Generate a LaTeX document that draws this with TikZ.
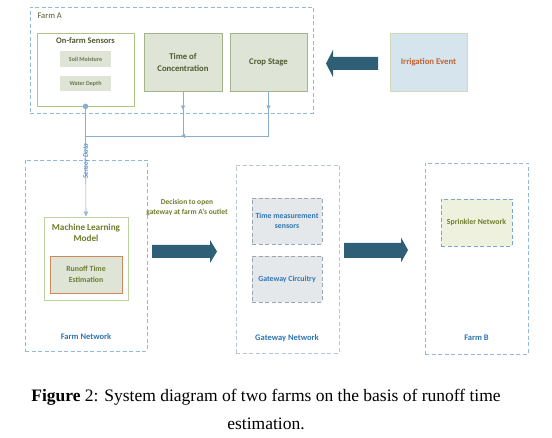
\documentclass[tikz,border=0pt]{standalone}
\usepackage{fontspec}
\setmainfont{Carlito}
\newfontfamily\capfont{Liberation Serif}
\usetikzlibrary{arrows.meta,decorations.markings}
\definecolor{dashblue}{HTML}{94B9D8}
\definecolor{conncol}{HTML}{8AAED0}
\definecolor{bigarrow}{HTML}{2F5F76}
\definecolor{greenline}{HTML}{ABC585}
\definecolor{boxfill}{HTML}{DEE4D6}
\definecolor{boxline}{HTML}{A3B38A}
\definecolor{olive}{HTML}{4E5B31}
\definecolor{olivelight}{HTML}{6F7C2C}
\definecolor{labblue}{HTML}{2F75B5}
\definecolor{irrfill}{HTML}{D6E4EE}
\definecolor{irrtext}{HTML}{C0622E}
\definecolor{orangeline}{HTML}{CC8A5C}
\definecolor{grayline}{HTML}{B9C6CF}
\definecolor{gboxline}{HTML}{9AA7B2}
\definecolor{gboxfill}{HTML}{E5E8EB}
\definecolor{sprfill}{HTML}{EEF1DD}
\definecolor{sprline}{HTML}{7AA6CC}
\tikzset{
  bx/.style={rectangle, inner sep=0pt, align=center},
  dashbox/.style={bx, draw=dashblue, dashed, dash pattern=on 4pt off 2.5pt, line width=0.9pt},
  conn/.style={draw=conncol, line width=0.6pt},
  midarrow/.style={postaction={decorate}, decoration={markings, mark=at position #1 with {\arrow{Latex[length=4.5pt,width=4.5pt]}}}},
  bigarr/.style={fill=bigarrow, draw=none},
  ttl/.style={font=\bfseries\fontsize{8.5}{10}\selectfont, text=olive, align=center},
  bluelab/.style={font=\bfseries\fontsize{8.5}{10}\selectfont, text=labblue, align=center},
}
\begin{document}
\begin{tikzpicture}[x=1pt,y=-1pt]
\useasboundingbox[fill=white] (0,0) rectangle (552,438);
% Farm A
\node[dashbox, minimum width=283pt, minimum height=106pt] (farmA) at (171.5,60) {};
\node[anchor=west, font=\fontsize{8.5}{10}\selectfont, text=olive] (farmAlab) at (34,16) {Farm A};
\node[bx, draw=greenline, line width=0.7pt, fill=white, minimum width=97pt, minimum height=73pt] (sens) at (85.5,69.5) {};
\node[ttl] (senslab) at (85.5,40.5) {On-farm Sensors};
\node[bx, fill=boxfill, minimum width=51pt, minimum height=16pt, font=\bfseries\fontsize{6}{7}\selectfont, text=olive!85] (soil) at (85.5,59) {Soil Moisture};
\node[bx, fill=boxfill, minimum width=51pt, minimum height=15pt, font=\bfseries\fontsize{6}{7}\selectfont, text=olive!85] (water) at (85.5,83.5) {Water Depth};
\node[bx, draw=boxline, line width=0.7pt, fill=boxfill, minimum width=78pt, minimum height=58pt, font=\bfseries\fontsize{8.7}{12}\selectfont, text=olive] (toc) at (183,62) {Time of\\Concentration};
\node[bx, draw=boxline, line width=0.7pt, fill=boxfill, minimum width=77pt, minimum height=58pt, font=\bfseries\fontsize{8.7}{10}\selectfont, text=olive] (crop) at (268.5,62) {Crop Stage};
\node[bx, draw=greenline!60, line width=0.7pt, fill=irrfill, minimum width=77pt, minimum height=58pt, font=\bfseries\fontsize{8.7}{10}\selectfont, text=irrtext] (irr) at (428.5,62) {Irrigation Event};
% big arrow left
\fill[bigarr] (378,57) -- (333,57) -- (333,50) -- (326,63.5) -- (333,77) -- (333,70) -- (378,70) -- cycle;
% Farm Network
\node[dashbox, minimum width=122pt, minimum height=191pt] (farmnet) at (86,255.5) {};
\node[bx, draw=greenline!80, line width=0.7pt, fill=white, minimum width=84pt, minimum height=83pt] (ml) at (86,258.5) {};
\node[font=\bfseries\fontsize{9.2}{11}\selectfont, text=olivelight, align=center] (mllab) at (86,233) {Machine Learning\\Model};
\node[bx, draw=orangeline, line width=0.7pt, fill=boxfill, minimum width=72pt, minimum height=37pt, font=\bfseries\fontsize{7.8}{10.5}\selectfont, text=olivelight] (runoff) at (86,274.5) {Runoff Time\\Estimation};
\node[bluelab] (fnlab) at (86,337) {Farm Network};
% connectors
\coordinate (jL) at (85.5,136);
\draw[conn, midarrow=0.42] (toc.south) -- (toc.south |- jL);
\draw[conn, midarrow=0.42] (crop.south) -- (crop.south |- jL);
\draw[conn, midarrow=0.48] (crop.south |- jL) -- (jL);
\draw[conn, -{Latex[length=5pt,width=5pt,fill=conncol!70]}] (sens.south) -- (jL) -- (ml.north);
\fill[conncol] (sens.south) circle (2.8);
\node[rotate=90, font=\bfseries\itshape\fontsize{7}{8}\selectfont, text=labblue!80] (sdlab) at (85.5,161) {Sensor Data};
% decision
\node[font=\bfseries\fontsize{7.5}{10}\selectfont, text=olivelight, align=center] (declab) at (187,208) {Decision to open\\gateway at farm A's outlet};
\fill[bigarr] (152,245) -- (210,245) -- (210,240) -- (217,251.5) -- (210,263) -- (210,258) -- (152,258) -- cycle;
% Gateway Network
\node[bx, draw=grayline, dashed, dash pattern=on 4pt off 2.5pt, line width=0.7pt, minimum width=103pt, minimum height=188pt] (gwnet) at (287.5,259) {};
\node[bx, draw=gboxline, dashed, dash pattern=on 4pt off 2.5pt, line width=0.7pt, fill=gboxfill, minimum width=70pt, minimum height=46pt, font=\bfseries\fontsize{7.8}{10.5}\selectfont, text=labblue] (tms) at (287,221) {Time measurement\\sensors};
\node[bx, draw=gboxline, dashed, dash pattern=on 4pt off 2.5pt, line width=0.7pt, fill=gboxfill, minimum width=70pt, minimum height=46pt, font=\bfseries\fontsize{7.8}{9}\selectfont, text=labblue] (gwc) at (287,279) {Gateway Circuitry};
\node[bluelab] (gwlab) at (287,338) {Gateway Network};
\fill[bigarr] (344,243) -- (401,243) -- (401,237.5) -- (408,250) -- (401,262.5) -- (401,258) -- (344,258) -- cycle;
% Farm B
\node[dashbox, minimum width=103pt, minimum height=191pt] (farmB) at (476.5,258.5) {};
\node[bx, draw=sprline, dashed, dash pattern=on 4pt off 2.5pt, line width=0.7pt, fill=sprfill, minimum width=71pt, minimum height=47pt, font=\bfseries\fontsize{7.8}{9}\selectfont, text=olivelight] (spr) at (476.5,222.5) {Sprinkler Network};
\node[bluelab] (fblab) at (476.5,338) {Farm B};
% caption
\node[align=center, font=\capfont\fontsize{17.5}{28}\selectfont] (cap) at (266,409) {\textbf{Figure} 2: System diagram of two farms on the basis of runoff time\\estimation.};
\end{tikzpicture}
\end{document}
